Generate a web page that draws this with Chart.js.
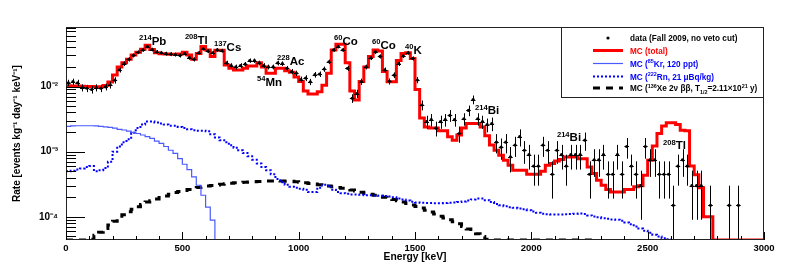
<!DOCTYPE html>
<html><head><meta charset="utf-8">
<script src="https://cdn.jsdelivr.net/npm/chart.js@4.4.0/dist/chart.umd.min.js"></script>
<style>html,body{margin:0;padding:0;background:#fff;}canvas{display:block;}</style>
</head><body>
<canvas id="c" width="789" height="267"></canvas>
<script>
// ---------------- data (rates in events / kg / day / keV, 20 keV bins from 0 to 3000 keV) ----------------
const binWidth = 20;
const energyRange = [0, 3000];
const rateRange = [4.4e-5, 0.082];
const xTicks = [0, 500, 1000, 1500, 2000, 2500, 3000];
const xMinorStep = 100;
const yTicks = [1e-4, 1e-3, 1e-2];
const yTickLabels = ['10⁻⁴', '10⁻³', '10⁻²'];

const dataRate = [
 0.0114,0.0119,0.0114,0.0096,0.0094,0.0090,0.0096,0.0094,0.0099,0.0106,
 0.0125,0.0180,0.0225,0.0262,0.0300,0.0336,0.0365,0.0410,0.0370,0.0340,
 0.0330,0.0320,0.0315,0.0310,0.0300,0.0320,0.0278,0.0262,0.0330,0.0380,
 0.0350,0.0330,0.0365,0.0355,0.0230,0.0210,0.0200,0.0210,0.0220,0.0250,
 0.0250,0.0230,0.0210,0.0200,0.0200,0.0230,0.0225,0.0190,0.0170,0.0160,
 0.0128,0.0135,0.0118,0.0152,0.0155,0.0185,0.0240,0.0365,0.0410,0.0365,
 0.0190,0.0066,0.0078,0.0119,0.0200,0.0275,0.0340,0.0290,0.0180,0.0120,
 0.0150,0.0225,0.0295,0.0330,0.0270,0.0126,0.0052,0.0029,0.0031,0.0023,
 0.0029,0.0031,0.0036,0.0031,0.0019,0.0032,0.0043,0.0063,0.0032,0.0029,
 0.0026,0.0027,0.0014,0.00117,0.0014,0.00083,0.00126,0.0017,0.00105,0.0009,
 0.0006,0.0006,0.00126,0.00105,0.00045,0.00105,0.0009,0.0006,0.0009,0.0009,
 0.0009,0.0015,0.00045,0.00075,0.00075,0.0009,0.00045,0.00045,0.0009,0.00045,
 0.0012,0.0006,0.00045,0.0003,0.0012,0.00075,0.00075,0.00045,0.00045,0.00045,
 0.00015,0.0006,0.00075,0.0006,0.0003,0.0003,0.0003,null,0.00015,null,
 null,null,0.00015,null,0.00015,null,null,null,null,null
];
const dataErr = [
 0.0013,0.0013,0.0013,0.0012,0.0012,0.0012,0.0012,0.0012,0.0012,0.0013,
 0.0014,0.0016,0.0018,0.0020,0.0021,0.0022,0.0023,0.0025,0.0024,0.0023,
 0.0022,0.0022,0.0022,0.0022,0.0021,0.0022,0.0020,0.0020,0.0022,0.0024,
 0.0023,0.0022,0.0023,0.0023,0.0019,0.0018,0.0017,0.0018,0.0018,0.0019,
 0.0019,0.0019,0.0018,0.0017,0.0017,0.0019,0.0018,0.0017,0.0016,0.0015,
 0.0014,0.0014,0.0013,0.0015,0.0015,0.0017,0.0019,0.0023,0.0025,0.0023,
 0.0017,0.0010,0.0011,0.0013,0.0017,0.0020,0.0023,0.0021,0.0016,0.0013,
 0.0015,0.0018,0.0021,0.0022,0.0020,0.0014,0.0009,0.00066,0.00068,0.00059,
 0.00066,0.00068,0.00074,0.00068,0.00053,0.00069,0.0008,0.00097,0.00069,0.00066,
 0.00062,0.00064,0.00046,0.00042,0.00046,0.00035,0.00043,0.0005,0.0004,0.00037,
 0.0003,0.0003,0.00043,0.0004,0.00026,0.0004,0.00037,0.0003,0.00037,0.00037,
 0.00037,0.00047,0.00026,0.00034,0.00034,0.00037,0.00026,0.00026,0.00037,0.00026,
 0.00042,0.0003,0.00026,0.00021,0.00042,0.00034,0.00034,0.00026,0.00026,0.00026,
 0.00015,0.0003,0.00034,0.0003,0.00021,0.00021,0.00021,null,0.00015,null,
 null,null,0.00015,null,0.00015,null,null,null,null,null
];
const mcTotal = [
 0.0103,0.0102,0.0102,0.0101,0.0100,0.0100,0.0099,0.0099,0.0104,0.0117,
 0.0150,0.0200,0.0232,0.0262,0.0305,0.0336,0.0373,0.0430,0.0370,0.0330,
 0.0318,0.0315,0.0313,0.0313,0.0315,0.0336,0.0305,0.0262,0.0320,0.0410,
 0.0365,0.0290,0.0360,0.0360,0.0214,0.0190,0.0180,0.0180,0.0190,0.0207,
 0.0207,0.0232,0.0200,0.0160,0.0160,0.0190,0.0190,0.0174,0.0165,0.0140,
 0.0119,0.0085,0.0077,0.0077,0.0083,0.0105,0.0160,0.0365,0.0447,0.0447,
 0.0232,0.0085,0.0062,0.0119,0.0200,0.0290,0.0365,0.0350,0.0170,0.0118,
 0.0118,0.0250,0.0320,0.0330,0.0270,0.0090,0.0033,0.0024,0.0023,0.0023,
 0.0021,0.0021,0.0017,0.0015,0.0018,0.0023,0.0027,0.0027,0.0027,0.0024,
 0.00175,0.00126,0.00105,0.00088,0.00074,0.00062,0.00052,0.00052,0.00052,0.00045,
 0.00045,0.00045,0.00050,0.00062,0.00066,0.00072,0.00076,0.00083,0.00083,0.00083,
 0.00078,0.00078,0.00058,0.00046,0.000365,0.000305,0.000263,0.00024,0.00024,0.00024,
 0.000263,0.000263,0.000288,0.0003,0.000436,0.00074,0.00122,0.0019,0.00247,0.00277,
 0.00277,0.0026,0.00214,0.0021,0.0006,0.00044,0.00028,0.0001,0.0001,0,
 0,0,0,0,0,0,0,0,0,0
];
const mcKr85 = [
 0.00245,0.00248,0.0025,0.0025,0.0025,0.0025,0.00248,0.00244,0.0024,0.00236,
 0.0023,0.0022,0.00215,0.00207,0.00198,0.0019,0.0018,0.0017,0.0016,0.00145,
 0.00134,0.0012,0.00105,0.00094,0.00078,0.00064,0.00053,0.00041,0.000305,0.000214,
 0.000141,0.000089,0,0,0,0,0,0,0,0,
 0,0,0,0,0,0,0,0,0,0, 0,0,0,0,0,0,0,0,0,0,
 0,0,0,0,0,0,0,0,0,0, 0,0,0,0,0,0,0,0,0,0,
 0,0,0,0,0,0,0,0,0,0, 0,0,0,0,0,0,0,0,0,0,
 0,0,0,0,0,0,0,0,0,0, 0,0,0,0,0,0,0,0,0,0,
 0,0,0,0,0,0,0,0,0,0, 0,0,0,0,0,0,0,0,0,0,
 0,0,0,0,0,0,0,0,0,0
];
const mcRn222 = [
 0.00050,0.00051,0.00053,0.00055,0.00058,0.00060,0.00050,0.00052,0.00056,0.00070,
 0.00100,0.00120,0.00140,0.00155,0.00195,0.00230,0.00260,0.00290,0.00290,0.00280,
 0.00270,0.00260,0.00250,0.00250,0.00240,0.00230,0.00220,0.00214,0.00210,0.00210,
 0.00205,0.00185,0.00165,0.00150,0.00140,0.00125,0.00115,0.00105,0.00095,0.00085,
 0.00075,0.00066,0.00058,0.00052,0.00045,0.00038,0.00034,0.00031,0.00029,0.00028,
 0.00027,0.00026,0.00024,0.00024,0.00028,0.00031,0.00030,0.00026,0.00024,0.00023,
 0.000225,0.00022,0.00022,0.000218,0.000215,0.000215,0.000212,0.00021,0.000208,0.000205,
 0.0002,0.00019,0.000184,0.000178,0.00017,0.000166,0.000164,0.000163,0.000163,0.000162,
 0.000162,0.000163,0.000164,0.000165,0.000168,0.000172,0.000178,0.000185,0.00019,0.00019,
 0.00018,0.000168,0.000157,0.00015,0.000145,0.00014,0.000137,0.000134,0.00013,0.000126,
 0.00012,0.000115,0.000111,0.000109,0.000108,0.000108,0.000108,0.000109,0.00011,0.000111,
 0.000112,0.00011,0.000105,0.000101,0.000098,0.000095,0.000093,0.000091,0.00009,0.000087,
 0.000082,0.000077,0.000071,0.000066,0.000061,0.000057,0.000053,0.00005,0.000047,0.000045,
 0,0,0,0,0,0,0,0,0,0,
 0,0,0,0,0,0,0,0,0,0
];
const mcXe136 = [
 0,0,0,0,0,0.000045,0.000052,0.000058,0.000066,0.000075,
 0.000085,0.000096,0.000107,0.000119,0.00013,0.000142,0.000155,0.000168,0.000177,0.000187,
 0.000197,0.000208,0.000222,0.000235,0.000245,0.000253,0.000262,0.00027,0.000282,0.00029,
 0.000297,0.000303,0.000308,0.000315,0.000322,0.000328,0.000333,0.000337,0.00034,0.000343,
 0.000346,0.000349,0.000352,0.000354,0.000355,0.000355,0.000354,0.000352,0.00035,0.000345,
 0.00034,0.000333,0.000325,0.000318,0.00031,0.000305,0.000298,0.00029,0.000282,0.000275,
 0.000268,0.000258,0.000248,0.000238,0.000228,0.000222,0.000215,0.000207,0.0002,0.000192,
 0.000184,0.000176,0.000168,0.00016,0.000152,0.000144,0.000136,0.000126,0.000118,0.00011,
 0.000102,0.000096,0.00009,0.000084,0.000078,0.000071,0.000065,0.00006,0.000055,0.00005,
 0.000045,0,0,0,0,0,0,0,0,0,
 0,0,0,0,0,0,0,0,0,0,
 0,0,0,null,null,null,null,null,null,null,
 null,null,null,null,null,null,null,null,null,null,
 null,null,null,null,null,null,null,null,null,null,
 null,null,null,null,null,null,null,null,null,null
];

// peak annotations (isotope, element, energy keV and rate at text baseline)
const peakIso  = ['214','208','137','54','228','60','60','40','214','214','208'];
const peakSym  = ['Pb','Tl','Cs','Mn','Ac','Co','Co','K','Bi','Bi','Tl'];
const peakE    = [314, 511, 636, 821, 907, 1152, 1315, 1457, 1758, 2110, 2566];
const peakRate = [0.0440, 0.0456, 0.0356, 0.0102, 0.02135, 0.0432, 0.0376, 0.0315, 0.00372, 0.001436, 0.001083];

const legendLabels = [
  [['data (Fall 2009, no veto cut)',0]],
  [['MC (total)',0]],
  [['MC (',0],['85',1],['Kr, 120 ppt)',0]],
  [['MC (',0],['222',1],['Rn, 21 μBq/kg)',0]],
  [['MC (',0],['136',1],['Xe 2ν ββ, T',0],['1/2',2],['=2.11×10',0],['21',1],[' y)',0]]
];

// ---------------- drawing ----------------
const FONT = '"Liberation Sans", Arial, Helvetica, sans-serif';
Chart.defaults.font.family = FONT;
Chart.defaults.color = '#000';

function histPoints(vals) {
  const pts = [];
  const clampY = v => Math.max(v, rateRange[0]);
  for (let k = 0; k < vals.length; k++) {
    const v = vals[k];
    if (v === null) {
      if (k > 0 && vals[k-1] !== null) pts.push({x: k*binWidth, y: clampY(vals[k-1])});
      pts.push({x: k*binWidth, y: null});
      continue;
    }
    pts.push({x: k*binWidth, y: clampY(v)});
  }
  const last = vals[vals.length-1];
  if (last !== null) pts.push({x: vals.length*binWidth, y: clampY(last)});
  return pts;
}
const dataPoints = [];
dataRate.forEach((v,k) => { if (v !== null) dataPoints.push({x: k*binWidth + binWidth/2, y: v}); });

function drawRich(ctx, x, y, parts, size, color) {
  let cx = x;
  ctx.fillStyle = color;
  ctx.textBaseline = 'alphabetic';
  ctx.textAlign = 'left';
  for (const [t, m] of parts) {
    const fs = m ? size*0.66 : size;
    ctx.font = 'bold ' + fs + 'px ' + FONT;
    const dy = m === 1 ? -size*0.42 : (m === 2 ? size*0.35 : 0);
    ctx.fillText(t, cx, y + dy);
    cx += ctx.measureText(t).width;
  }
}

const decorPlugin = {
  id: 'decor',
  afterDatasetsDraw(chart) {
    const {ctx, chartArea: a, scales: {x, y}} = chart;
    // error bars
    ctx.save();
    ctx.beginPath(); ctx.rect(a.left, a.top, a.right - a.left, a.bottom - a.top); ctx.clip();
    ctx.strokeStyle = '#000'; ctx.lineWidth = 1;
    ctx.beginPath();
    dataRate.forEach((v, k) => {
      if (v === null) return;
      const e = dataErr[k];
      const cx = Math.round(x.getPixelForValue(k*binWidth + binWidth/2)) + 0.5;
      const x0 = x.getPixelForValue(k*binWidth), x1 = x.getPixelForValue((k+1)*binWidth);
      const yc = Math.round(y.getPixelForValue(v)) + 0.5;
      const yHi = y.getPixelForValue(v + e);
      const yLo = (v - e) > rateRange[0] ? y.getPixelForValue(v - e) : a.bottom;
      ctx.moveTo(cx, yHi); ctx.lineTo(cx, yLo);
      ctx.moveTo(x0, yc); ctx.lineTo(x1, yc);
    });
    ctx.stroke();
    ctx.restore();
  },
  afterDraw(chart) {
    const {ctx, chartArea: a, scales: {x, y}} = chart;
    ctx.save();
    // frame
    ctx.strokeStyle = '#222'; ctx.lineWidth = 1;
    ctx.strokeRect(Math.round(a.left)+0.5, Math.round(a.top)+0.5, Math.round(a.right-a.left)-1, Math.round(a.bottom-a.top)-1);
    // x ticks (inside)
    ctx.strokeStyle = '#000';
    ctx.beginPath();
    for (let e = energyRange[0]; e <= energyRange[1]; e += xMinorStep) {
      const px = Math.round(x.getPixelForValue(e)) + 0.5;
      const len = xTicks.includes(e) ? 8 : 4;
      ctx.moveTo(px, a.bottom); ctx.lineTo(px, a.bottom - len);
    }
    // y ticks (inside, log)
    for (let d = -5; d <= 0; d++) {
      for (let m = 1; m <= 9; m++) {
        const v = m * Math.pow(10, d);
        if (v < rateRange[0] || v > rateRange[1]) continue;
        const py = Math.round(y.getPixelForValue(v)) + 0.5;
        const len = m === 1 ? 19 : 10;
        ctx.moveTo(a.left, py); ctx.lineTo(a.left + len, py);
      }
    }
    ctx.stroke();
    // peak labels
    for (let i = 0; i < peakIso.length; i++) {
      drawRich(ctx, x.getPixelForValue(peakE[i]), y.getPixelForValue(peakRate[i]),
        [[peakIso[i],1],[peakSym[i],0]], 11.5, '#000');
    }
    // legend
    const lw = 203, lh = 70;
    const lx = a.right - lw, ly = a.top;
    ctx.fillStyle = '#fff';
    ctx.fillRect(lx, ly, lw, lh);
    ctx.strokeStyle = '#222'; ctx.lineWidth = 1;
    ctx.strokeRect(Math.round(lx)+0.5, Math.round(ly)+0.5, lw-1, lh);
    const rowY = [38, 50.5, 63.5, 76.5, 88];
    const textColors = ['#000', '#ff0000', '#0000ff', '#0000ff', '#000'];
    const symX0 = lx + 32, symX1 = lx + 62, textX = lx + 69;
    rowY.forEach((ry, i) => {
      const sy = ly + (ry - 27);
      ctx.save();
      if (i === 0) {
        ctx.fillStyle = '#000'; ctx.beginPath(); ctx.arc((symX0+symX1)/2, sy, 1.6, 0, Math.PI*2); ctx.fill();
      } else {
        const st = chart.data.datasets[i];
        ctx.strokeStyle = st.borderColor; ctx.lineWidth = st.borderWidth;
        ctx.setLineDash(st.borderDash || []);
        ctx.beginPath(); ctx.moveTo(symX0, sy); ctx.lineTo(symX1, sy); ctx.stroke();
      }
      ctx.restore();
      drawRich(ctx, textX, sy + 3.1, legendLabels[i], 8.2, textColors[i]);
    });
    ctx.restore();
  }
};

new Chart(document.getElementById('c'), {
  type: 'line',
  data: {
    datasets: [
      { label: 'data (Fall 2009, no veto cut)', type: 'scatter', data: dataPoints, showLine: false,
        pointRadius: 1.6, pointBackgroundColor: '#000', pointBorderWidth: 0, borderColor: '#000' },
      { label: 'MC (total)', data: histPoints(mcTotal), stepped: 'before', borderColor: '#ff0000', borderWidth: 3, pointRadius: 0, fill: false, spanGaps: false },
      { label: 'MC (85Kr, 120 ppt)', data: histPoints(mcKr85), stepped: 'before', borderColor: '#4a5aff', borderWidth: 1.2, pointRadius: 0, fill: false },
      { label: 'MC (222Rn, 21 uBq/kg)', data: histPoints(mcRn222), stepped: 'before', borderColor: '#0000ff', borderWidth: 2, borderDash: [2,2], pointRadius: 0, fill: false },
      { label: 'MC (136Xe 2nbb)', data: histPoints(mcXe136), stepped: 'before', borderColor: '#000', borderWidth: 3, borderDash: [7,6], pointRadius: 0, fill: false }
    ]
  },
  options: {
    responsive: false, animation: false, devicePixelRatio: 1,
    layout: { padding: { top: 27, right: 25, left: 0, bottom: 0 } },
    plugins: { legend: { display: false }, tooltip: { enabled: false } },
    scales: {
      x: {
        type: 'linear', min: energyRange[0], max: energyRange[1],
        afterBuildTicks: s => { s.ticks = xTicks.map(v => ({value: v})); },
        afterFit: s => { s.height = 27; },
        grid: { display: false, drawTicks: false }, border: { display: false },
        ticks: { padding: 3, font: { size: 9.5, weight: 'bold' }, color: '#000', maxRotation: 0, callback: v => String(v) },
        title: { display: true, text: 'Energy [keV]', font: { size: 10.3, weight: 'bold' }, color: '#000', padding: { top: 0, bottom: 4 } }
      },
      y: {
        type: 'logarithmic', min: rateRange[0], max: rateRange[1],
        afterBuildTicks: s => { s.ticks = yTicks.map(v => ({value: v})); },
        afterFit: s => { s.width = 66; },
        grid: { display: false, drawTicks: false }, border: { display: false },
        ticks: { padding: 8, font: { size: 10, weight: 'bold' }, color: '#000',
          callback: v => { const i = yTicks.findIndex(t => Math.abs(t - v) / t < 1e-6); return i >= 0 ? yTickLabels[i] : ''; } },
        title: { display: true, text: 'Rate [events kg⁻¹ day⁻¹ keV⁻¹]', font: { size: 10, weight: 'bold' }, color: '#000', padding: { top: 11, bottom: 0 } }
      }
    }
  },
  plugins: [decorPlugin]
});
</script>
</body></html>
